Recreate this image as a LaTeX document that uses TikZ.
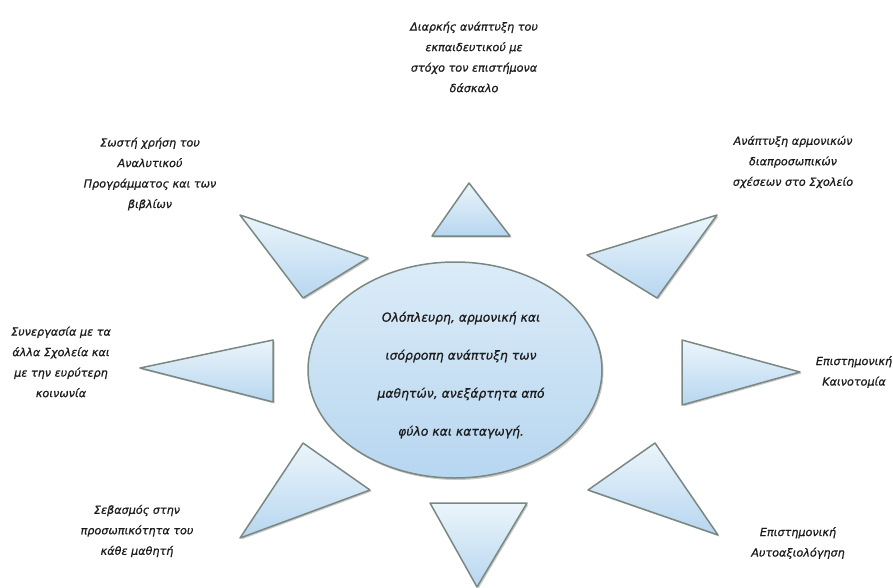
\documentclass[tikz,border=0pt]{standalone}
\usepackage{fontspec}
\setmainfont{DejaVu Sans}[ItalicFeatures={FakeBold=0.8}]
\usetikzlibrary{shadows,shapes.geometric}
\definecolor{edgegray}{HTML}{7A8882}
\definecolor{fillA}{HTML}{EBF5FB}
\definecolor{fillB}{HTML}{B7D6F0}
\definecolor{txt}{HTML}{1C1C1C}
\tikzset{
  tri/.style={draw=edgegray, line width=1.5pt, line join=round, top color=fillA, bottom color=fillB,
    drop shadow={shadow xshift=1.5pt, shadow yshift=-1.5pt, opacity=0.35, fill=black!60}},
  hub/.style={ellipse, draw=edgegray, line width=1.5pt, top color=fillA!70!fillB, bottom color=fillB,
    minimum width=294pt, minimum height=216pt, inner sep=0pt,
    drop shadow={shadow xshift=1.5pt, shadow yshift=-2pt, opacity=0.35, fill=black!60}},
  lbl/.style={align=center, text=txt, font=\fontsize{11.2}{20.5}\selectfont\itshape, inner sep=0pt},
  hubtxt/.style={align=center, text=txt, font=\fontsize{12.4}{38}\selectfont\itshape, inner sep=0pt}
}
\begin{document}
\begin{tikzpicture}[x=1pt,y=-1pt]
\useasboundingbox (0,0) rectangle (893,588);
% triangles
\path[tri] (469,183) -- (432,236) -- (510,236) -- cycle;
\path[tri] (430,503) -- (527,503) -- (477,587) -- cycle;
\path[tri] (240,215) -- (368,258) -- (303,298) -- cycle;
\path[tri] (587,255) -- (717,215) -- (657,298) -- cycle;
\path[tri] (140,368) -- (273,340) -- (273,402) -- cycle;
\path[tri] (682,340) -- (800,372) -- (682,405) -- cycle;
\path[tri] (303,443) -- (370,490) -- (240,538) -- cycle;
\path[tri] (588,490) -- (655,443) -- (718,535) -- cycle;
% hub
\node[hub] (hub) at (455,370) {};
\node[hubtxt] (hubt) at (461,375) {Ολόπλευρη, αρμονική και\\ισόρροπη ανάπτυξη των\\μαθητών, ανεξάρτητα από\\φύλο και καταγωγή.};
% labels
\node[lbl] (ltop) at (474,57) {Διαρκής ανάπτυξη του\\εκπαιδευτικού με\\στόχο τον επιστήμονα\\δάσκαλο};
\node[lbl] (lul) at (150,174) {Σωστή χρήση του\\Αναλυτικού\\Προγράμματος και των\\βιβλίων};
\node[lbl] (lur) at (793,162) {Ανάπτυξη αρμονικών\\διαπροσωπικών\\σχέσεων στο Σχολείο};
\node[lbl] (ll) at (61,362) {Συνεργασία με τα\\άλλα Σχολεία και\\με την ευρύτερη\\κοινωνία};
\node[lbl] (lr) at (854,372) {Επιστημονική\\Καινοτομία};
\node[lbl] (lll) at (137,531) {Σεβασμός στην\\προσωπικότητα του\\κάθε μαθητή};
\node[lbl] (llr) at (798,543) {Επιστημονική\\Αυτοαξιολόγηση};
\end{tikzpicture}
\end{document}
